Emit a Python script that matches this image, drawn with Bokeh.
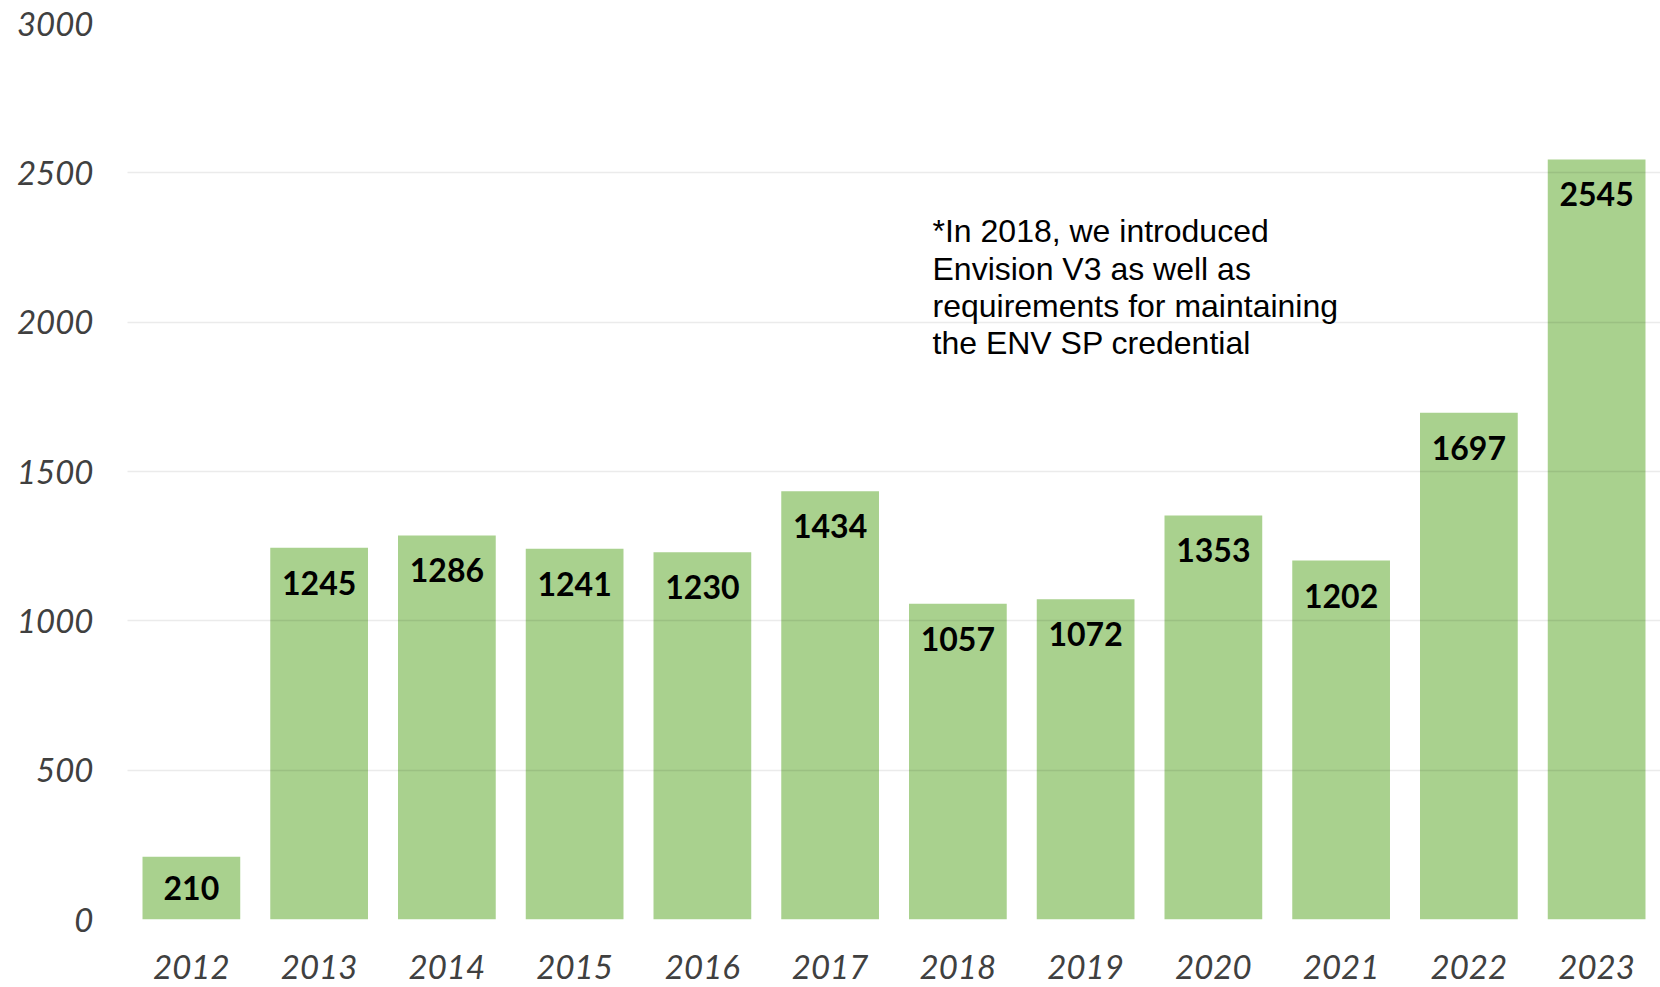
from bokeh.plotting import figure
from bokeh.models import ColumnDataSource, Range1d, FixedTicker
from bokeh.core.properties import value
from bokeh.embed import file_html
from bokeh.resources import INLINE

years = ["2012", "2013", "2014", "2015", "2016", "2017", "2018", "2019", "2020", "2021", "2022", "2023"]
counts = [210, 1245, 1286, 1241, 1230, 1434, 1057, 1072, 1353, 1202, 1697, 2545]
y_ticks = [0, 500, 1000, 1500, 2000, 2500, 3000]
note = "*In 2018, we introduced\nEnvision V3 as well as\nrequirements for maintaining\nthe ENV SP credential"

W, H = 1660, 987
LEFT, TOP, BOTTOM = 127, 23, 68
frame_w = W - LEFT
frame_h = H - TOP - BOTTOM
cat_px = 127.75
y_max = 3000
px_per_unit = frame_h / y_max

xs = list(range(len(years)))
label_off = 35 / px_per_unit
label_y = [max(v - label_off, v / 2) for v in counts]

src = ColumnDataSource(dict(x=xs, top=counts, ly=label_y, txt=[str(c) for c in counts]))

p = figure(width=W, height=H, output_backend="svg", toolbar_location=None,
           x_range=Range1d(-0.5, -0.5 + frame_w / cat_px), y_range=Range1d(0, y_max),
           min_border_left=LEFT, min_border_right=0, min_border_top=TOP, min_border_bottom=BOTTOM)
p.outline_line_color = None
p.background_fill_color = "white"
p.border_fill_color = "white"

p.vbar(x="x", top="top", bottom=0, width=0.765, source=src,
       fill_color="#A9D18E", line_color=None)

p.text(x="x", y="ly", text="txt", source=src, text_align="center", text_baseline="middle",
       text_font=value("Lato"), text_font_style="bold", text_font_size="32px", text_color="black")

note_x = (932 - LEFT) / cat_px - 0.5
p.text(x=[note_x], y=[2365], text=[note], text_align="left", text_baseline="top",
       text_font=value("Liberation Sans"), text_font_size="32px", text_color="black",
       text_line_height=1.04)

p.xgrid.grid_line_color = None
p.ygrid.grid_line_color = "black"
p.ygrid.grid_line_alpha = 0.08
p.ygrid.grid_line_width = 1.5
p.ygrid.level = "overlay"
p.yaxis.ticker = FixedTicker(ticks=y_ticks)
p.xaxis.ticker = FixedTicker(ticks=xs)
p.xaxis.major_label_overrides = {i: y for i, y in enumerate(years)}

for ax in (p.xaxis, p.yaxis):
    ax.axis_line_color = None
    ax.major_tick_line_color = None
    ax.minor_tick_line_color = None
    ax.major_label_text_font = "Lato"
    ax.major_label_text_font_style = "italic"
    ax.major_label_text_font_size = "33px"
    ax.major_label_text_color = "#404040"
p.yaxis.major_label_standoff = 28
p.xaxis.major_label_standoff = 29

open("out.html", "w").write(file_html(p, INLINE))
